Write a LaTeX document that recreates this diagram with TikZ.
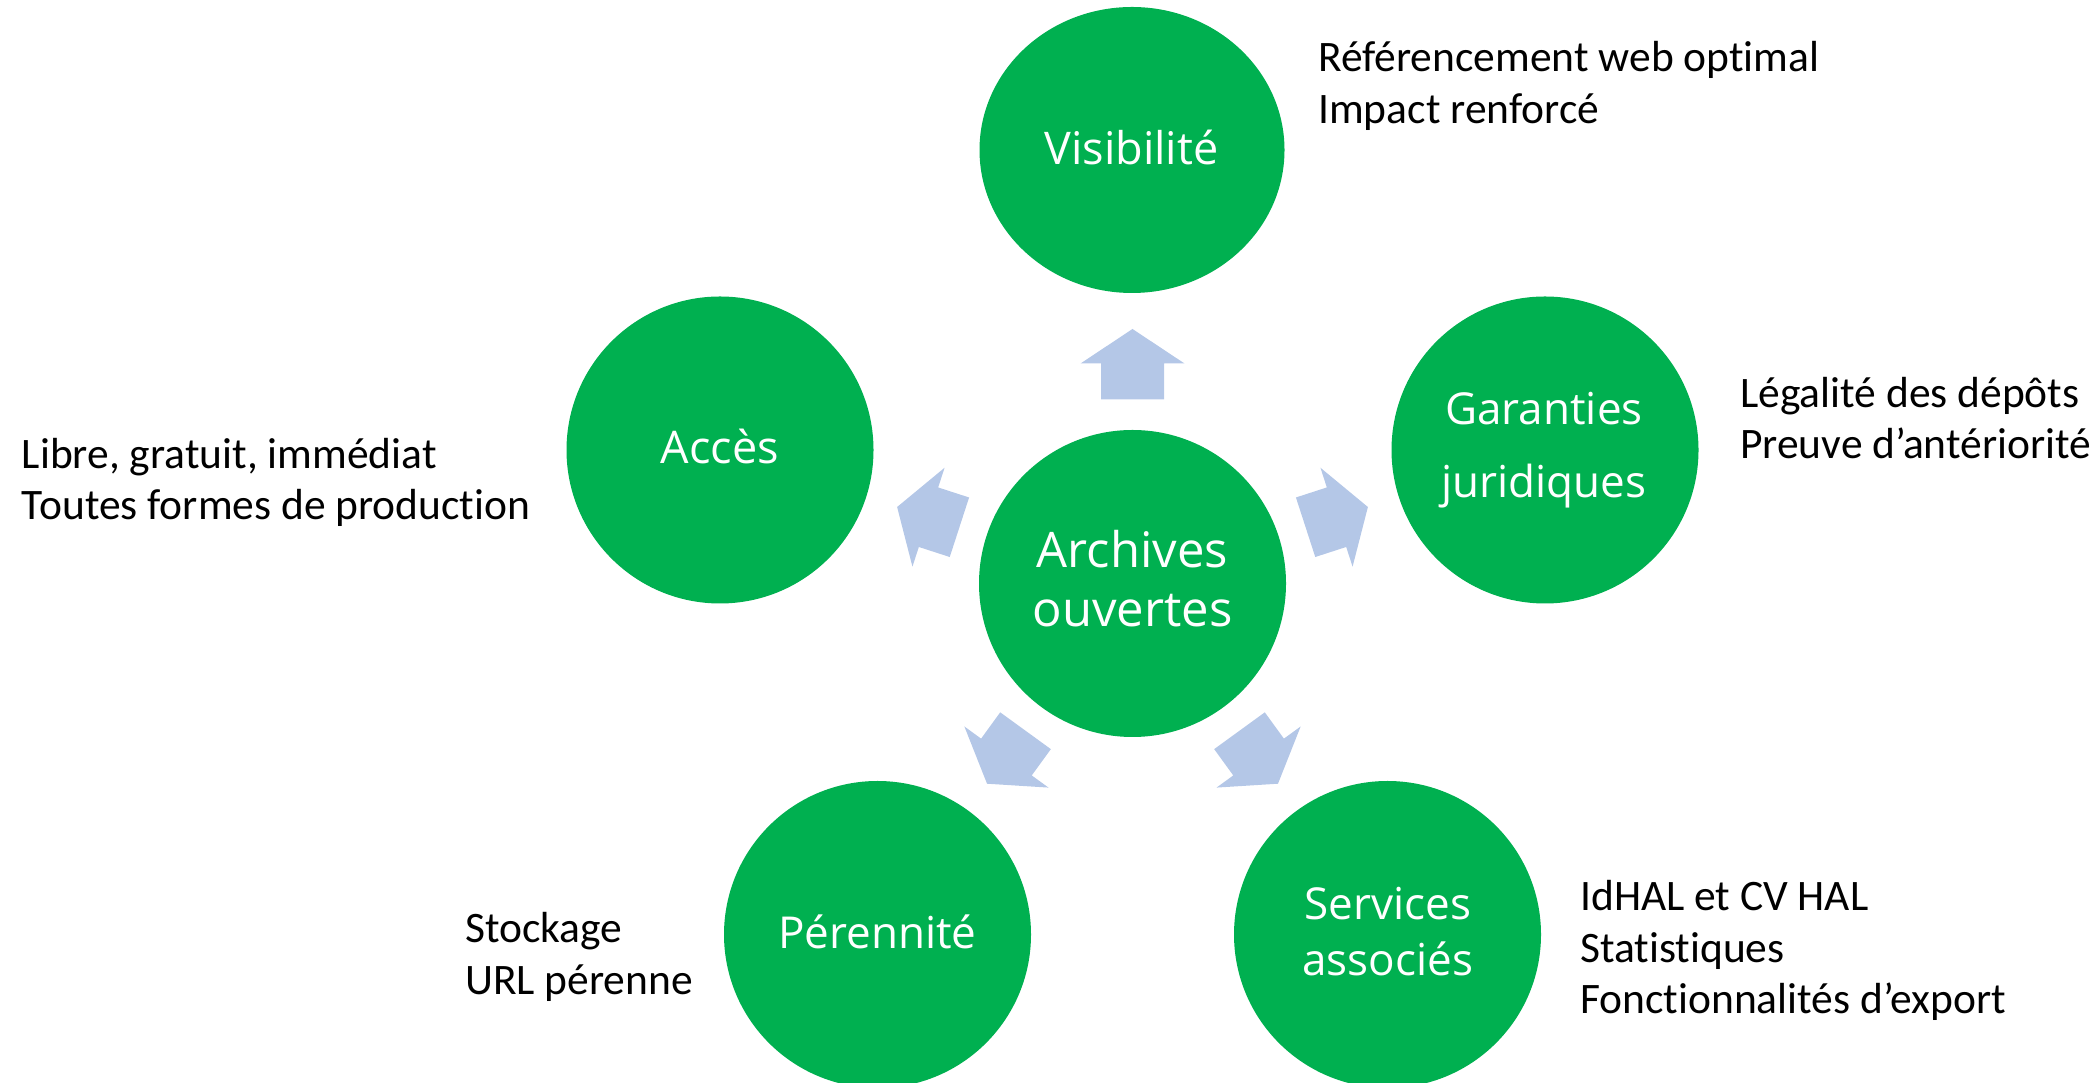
\documentclass[tikz,border=0pt]{standalone}
\usepackage{fontspec}
\setmainfont{Carlito}[Ligatures={NoCommon}]
\newfontfamily\labfont{Open Sans}
\usetikzlibrary{calc,shapes.geometric}
\definecolor{hgreen}{HTML}{00B050}
\definecolor{harrow}{HTML}{B4C7E7}
\tikzset{
  bubble/.style={circle,fill=hgreen,draw=none,minimum size=307pt,inner sep=0pt},
  note/.style={anchor=base west,inner sep=0pt,text=black,font=\fontsize{43.5}{51.5}\selectfont},
  lab/.style={anchor=base,inner sep=0pt,text=white},
  blockarrow/.style={fill=harrow,draw=none}
}
\newcommand{\blkarrow}[6]{%
  \fill[blockarrow] ($(c)+(#1:#2)+(#1+90:#5)$) -- ($(c)+(#1:#3)+(#1+90:#5)$)
   -- ($(c)+(#1:#3)+(#1+90:#6)$) -- ($(c)+(#1:#4)$)
   -- ($(c)+(#1:#3)+(#1-90:#6)$) -- ($(c)+(#1:#3)+(#1-90:#5)$)
   -- ($(c)+(#1:#2)+(#1-90:#5)$) -- cycle;}
\begin{document}
\begin{tikzpicture}[x=1pt,y=1pt]
\useasboundingbox (0,0) rectangle (2100,1083);
\clip (0,0) rectangle (2100,1083);
% bubbles
\node[bubble] (c) at (1132.5,499.5) {};
\node[bubble,ellipse,minimum width=305pt,minimum height=286pt] (vis) at (1132,933) {};
\node[bubble] (acc) at (720,633) {};
\node[bubble] (gar) at (1545,633) {};
\node[bubble] (per) at (877.5,148.5) {};
\node[bubble] (ser) at (1387.5,148.5) {};
% block arrows
\blkarrow{90}{184}{220}{254.5}{31.5}{52}
\blkarrow{18}{182}{214.5}{247.5}{31.3}{52}
\blkarrow{162}{182}{214.5}{247.5}{31.3}{52}
\blkarrow{234}{182}{214.5}{247.5}{31.3}{52}
\blkarrow{306}{182}{214.5}{247.5}{31.3}{52}
% bubble labels
\node[lab] (cL) at (1132.5,515.7) {\labfont\fontsize{49}{59}\selectfont\begin{tabular}[t]{@{}c@{}}Archives\\ouvertes\end{tabular}};
\node[lab] (visL) at (1131.5,918) {\labfont\fontsize{45}{54}\selectfont Visibilité};
\node[lab] (accL) at (720,619.7) {\labfont\fontsize{45}{54}\selectfont Accès};
\node[lab] (garL) at (1544,658) {\labfont\fontsize{44}{73}\selectfont\begin{tabular}[t]{@{}c@{}}Garanties\\juridiques\end{tabular}};
\node[lab] (perL) at (877.5,134.7) {\labfont\fontsize{44}{54}\selectfont Pérennité};
\node[lab] (serL) at (1387.7,163) {\labfont\fontsize{44}{56}\selectfont\begin{tabular}[t]{@{}c@{}}Services\\associés\end{tabular}};
% notes
\node[note] (visN) at (1318,1011.3) {\begin{tabular}[t]{@{}l@{}}Référencement web optimal\\Impact renforcé\end{tabular}};
\node[note] (garN) at (1740,675.7) {\begin{tabular}[t]{@{}l@{}}Légalité des dépôts\\Preuve d’antériorité\end{tabular}};
\node[note] (accN) at (21.7,614.7) {\begin{tabular}[t]{@{}l@{}}Libre, gratuit, immédiat\\Toutes formes de production\end{tabular}};
\node[note] (perN) at (465,140) {\begin{tabular}[t]{@{}l@{}}Stockage\\URL pérenne\end{tabular}};
\node[note] (serN) at (1580,172) {\begin{tabular}[t]{@{}l@{}}IdHAL et CV HAL\\Statistiques\\Fonctionnalités d’export\end{tabular}};
\end{tikzpicture}
\end{document}
